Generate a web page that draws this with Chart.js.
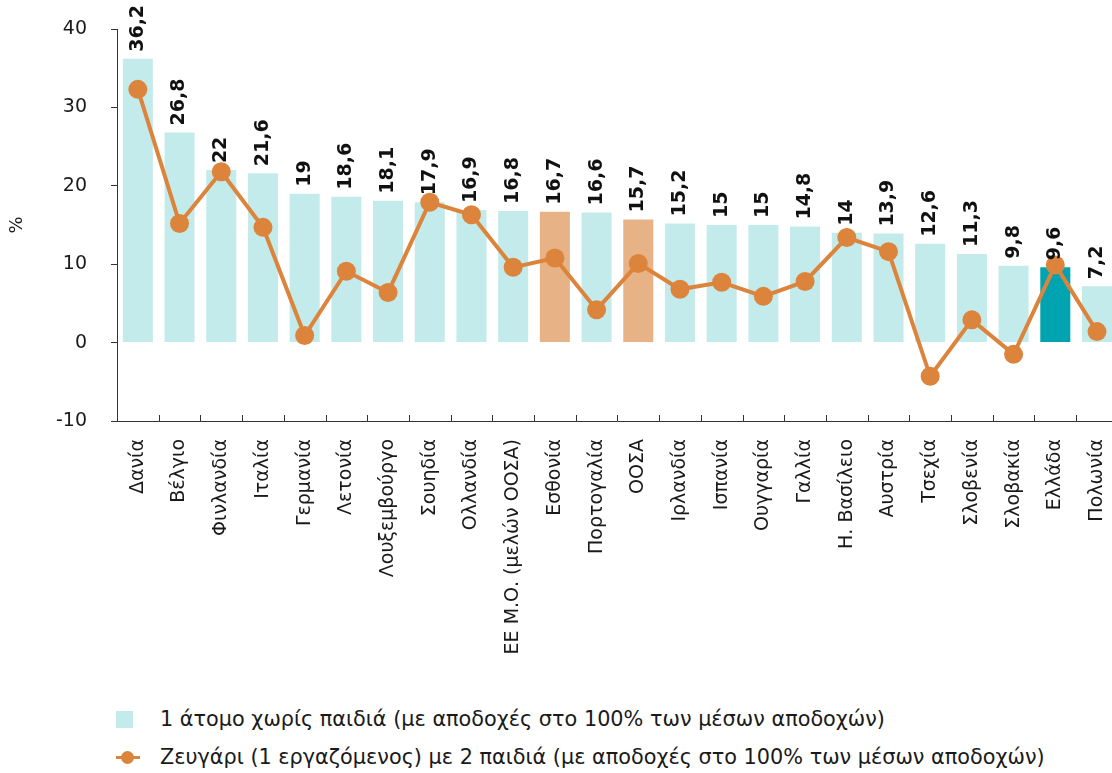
<!DOCTYPE html>
<html lang="el">
<head>
<meta charset="utf-8">
<title>Φορολογική επιβάρυνση</title>
<script src="https://cdn.jsdelivr.net/npm/chart.js@4/dist/chart.umd.min.js"></script>
<style>
  html, body { margin: 0; padding: 0; background: #fff; overflow: hidden; }
  body { width: 1112px; height: 773px; position: relative; font-family: "DejaVu Sans", sans-serif; }
  #wrap { position: absolute; left: 0; top: 0; width: 1130px; height: 700px; }
  .legend { position: absolute; left: 116px; font-size: 20.8px; color: #1a1a1a; display: flex; align-items: center; white-space: nowrap; }
  .legend .box { width: 17px; height: 17px; background: #c3ebeb; margin-right: 27px; }
  .legend .ln { position: relative; width: 24px; height: 17px; margin-right: 20px; }
  .legend .ln::before { content: ""; position: absolute; left: 0; right: 0; top: 7px; height: 3px; background: #dc843c; }
  .legend .ln::after { content: ""; position: absolute; left: 5px; top: 2px; width: 13px; height: 13px; border-radius: 50%; background: #dc843c; }
</style>
</head>
<body>
<div id="wrap"><canvas id="chart" width="1130" height="700"></canvas></div>
<div class="legend" style="top:707px"><span class="box"></span><span id="lg1"></span></div>
<div class="legend" style="top:745px"><span class="ln"></span><span id="lg2"></span></div>
<script>
const countries = ['Δανία', 'Βέλγιο', 'Φινλανδία', 'Ιταλία', 'Γερμανία', 'Λετονία', 'Λουξεμβούργο', 'Σουηδία',
  'Ολλανδία', 'ΕΕ Μ.Ο. (μελών ΟΟΣΑ)', 'Εσθονία', 'Πορτογαλία', 'ΟΟΣΑ', 'Ιρλανδία', 'Ισπανία', 'Ουγγαρία',
  'Γαλλία', 'Η. Βασίλειο', 'Αυστρία', 'Τσεχία', 'Σλοβενία', 'Σλοβακία', 'Ελλάδα', 'Πολωνία'];
const singleNoKids = [36.2, 26.8, 22, 21.6, 19, 18.6, 18.1, 17.9, 16.9, 16.8, 16.7, 16.6, 15.7, 15.2, 15, 15,
  14.8, 14, 13.9, 12.6, 11.3, 9.8, 9.6, 7.2];
const coupleTwoKids = [32.3, 15.2, 21.8, 14.7, 0.9, 9.1, 6.4, 17.9, 16.3, 9.6, 10.8, 4.2, 10.1, 6.8, 7.7, 5.9,
  7.8, 13.4, 11.6, -4.3, 2.9, -1.5, 9.9, 1.4];
const yTicks = [-10, 0, 10, 20, 30, 40];

const legendSingle = '1 άτομο χωρίς παιδιά (με αποδοχές στο 100% των μέσων αποδοχών)';
const legendCouple = 'Ζευγάρι (1 εργαζόμενος) με 2 παιδιά (με αποδοχές στο 100% των μέσων αποδοχών)';
document.getElementById('lg1').textContent = legendSingle;
document.getElementById('lg2').textContent = legendCouple;

const FONT = '"DejaVu Sans", sans-serif';
const TXT = '#1a1a1a';

// Εσθονία & ΟΟΣΑ in orange, Ελλάδα in teal, the rest light cyan
const barColors = countries.map(c => {
  if (c === 'Ελλάδα') return '#00a3b0';
  if (c === 'Εσθονία' || c === 'ΟΟΣΑ') return '#e8b287';
  return '#c3ebeb';
});

const fmt = v => String(v).replace('.', ',');

// vertical bold value labels above each bar
const barLabels = {
  id: 'barLabels',
  afterDatasetsDraw(chart) {
    const ctx = chart.ctx;
    const idx = chart.data.datasets.findIndex(d => d.type === 'bar');
    const meta = chart.getDatasetMeta(idx);
    ctx.save();
    ctx.font = 'bold 19px ' + FONT;
    ctx.fillStyle = '#111';
    ctx.textAlign = 'left';
    ctx.textBaseline = 'middle';
    meta.data.forEach((bar, i) => {
      ctx.save();
      ctx.translate(bar.x, bar.y - 7);
      ctx.rotate(-Math.PI / 2);
      ctx.fillText(fmt(singleNoKids[i]), 0, 0);
      ctx.restore();
    });
    ctx.restore();
  }
};

// small tick marks on the x axis between categories, pointing up
const catTicks = {
  id: 'catTicks',
  afterDraw(chart) {
    const x = chart.scales.x;
    const ctx = chart.ctx;
    const step = x.getPixelForValue(1) - x.getPixelForValue(0);
    ctx.save();
    ctx.strokeStyle = '#333';
    ctx.lineWidth = 1;
    for (let i = 1; i < countries.length; i++) {
      const px = Math.round(x.getPixelForValue(i) - step / 2) + 0.5;
      ctx.beginPath();
      ctx.moveTo(px, x.top);
      ctx.lineTo(px, x.top - 6);
      ctx.stroke();
    }
    ctx.restore();
  }
};

new Chart(document.getElementById('chart'), {
  data: {
    labels: countries,
    datasets: [
      {
        type: 'line',
        label: legendCouple,
        data: coupleTwoKids,
        borderColor: '#dc843c',
        backgroundColor: '#dc843c',
        borderWidth: 4,
        pointRadius: 9.5,
        pointHoverRadius: 9.5,
        pointBorderWidth: 0,
        tension: 0,
        order: 0
      },
      {
        type: 'bar',
        label: legendSingle,
        data: singleNoKids,
        backgroundColor: barColors,
        barPercentage: 0.72,
        categoryPercentage: 1,
        order: 1
      }
    ]
  },
  options: {
    responsive: false,
    animation: false,
    layout: { padding: { top: 29, right: 2, left: 0, bottom: 0 } },
    plugins: { legend: { display: false }, tooltip: { enabled: false } },
    scales: {
      x: {
        offset: true,
        grid: { display: false },
        border: { display: true, color: '#333', width: 1 },
        ticks: {
          minRotation: 90, maxRotation: 90, autoSkip: false, padding: 10,
          color: TXT, font: { family: FONT, size: 19 }
        },
        afterFit(s) { s.height = 279; }
      },
      y: {
        min: -10, max: 40,
        afterBuildTicks(s) { s.ticks = yTicks.map(v => ({ value: v })); },
        grid: { drawOnChartArea: false, drawTicks: true, tickLength: 6, color: '#333' },
        border: { display: true, color: '#333', width: 1 },
        ticks: {
          padding: 24, color: TXT, font: { family: FONT, size: 19 },
          callback: v => fmt(v)
        },
        title: { display: true, text: '%', color: TXT, font: { family: FONT, size: 18 }, padding: { top: 7, bottom: 0 } },
        afterFit(s) {
          s.width = 117;
          // the label padding should not push the plot area down
          s.paddingTop = 0;
          s.paddingBottom = 0;
        }
      }
    }
  },
  plugins: [barLabels, catTicks]
});
</script>
</body>
</html>
